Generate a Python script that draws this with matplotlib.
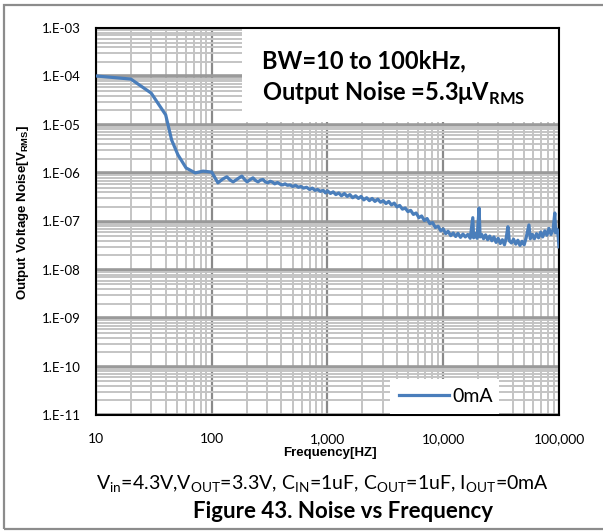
import numpy as np
import matplotlib.pyplot as plt
from matplotlib.patches import Rectangle

# data (0mA curve)
freq = [10, 20, 30, 40, 45, 51, 60, 72, 84, 100, 113, 124, 135, 144, 153, 167, 182, 192,
        202, 214, 227, 238, 251, 264, 277, 290, 305, 320, 335, 350, 370, 390, 410, 430,
        450, 475, 500, 530, 560, 590, 620, 660, 700, 740, 780, 820, 870, 920, 960,
        1000, 1060, 1120, 1180, 1250, 1320, 1400, 1480, 1560, 1650, 1750, 1850, 1950,
        2060, 2180, 2300, 2430, 2570, 2720, 2870, 3030, 3200, 3380, 3570, 3770, 3980,
        4200, 4440, 4690, 4950, 5230, 5520, 5830, 6160, 6500, 6870, 7250, 7660, 8090,
        8540, 9020, 9530,
        10000, 10500, 11000, 11600, 12200, 12800, 13400, 14100, 14800, 15500, 16300,
        17100, 18000, 18300, 19000, 19600, 20400, 20800, 21500, 22300, 23200, 24200,
        25200, 26300, 27400, 28600, 29800, 31100, 32400, 33800, 35000, 36200, 37200,
        38800, 40500, 42300, 44100, 46000, 48000, 50000, 52000, 55000, 56500, 58800,
        61300, 63900, 66600, 69400, 72300, 75400, 78600, 81900, 85300, 88900, 92000,
        93500, 96000, 98000, 100000]
noise = [1.02e-4, 8.8e-5, 4.5e-5, 1.6e-5, 4.85e-6, 2.4e-6, 1.28e-6, 1.01e-6, 1.1e-6, 1.05e-6,
         6.3e-7, 7.5e-7, 8.4e-7, 7.2e-7, 6.6e-7, 7.6e-7, 8.7e-7, 7.4e-7,
         6.6e-7, 7.3e-7, 8.0e-7, 7.1e-7, 6.6e-7, 7.2e-7, 7.4e-7, 6.6e-7, 6.3e-7, 6.8e-7,
         6.5e-7, 6.0e-7, 6.4e-7, 5.9e-7, 5.7e-7, 6.0e-7,
         5.6e-7, 5.7e-7, 5.3e-7, 5.6e-7, 5.1e-7, 5.3e-7, 4.9e-7, 5.1e-7, 4.6e-7, 4.9e-7,
         4.4e-7, 4.6e-7, 4.2e-7, 4.4e-7, 3.9e-7,
         4.3e-7, 3.8e-7, 4.1e-7, 3.6e-7, 3.9e-7, 3.4e-7, 3.8e-7, 3.3e-7, 3.6e-7, 3.1e-7,
         3.4e-7, 3.0e-7, 3.3e-7,
         2.8e-7, 3.1e-7, 2.7e-7, 3.0e-7, 2.6e-7, 2.9e-7, 2.5e-7, 2.7e-7, 2.35e-7, 2.6e-7,
         2.2e-7, 2.4e-7, 2.0e-7,
         2.15e-7, 1.8e-7, 1.9e-7, 1.6e-7, 1.7e-7, 1.4e-7, 1.5e-7, 1.2e-7, 1.3e-7, 1.05e-7,
         1.15e-7, 9.0e-8, 9.5e-8,
         7.5e-8, 8.0e-8, 6.4e-8,
         7.0e-8, 5.6e-8, 6.3e-8, 5.1e-8, 5.8e-8, 4.9e-8, 5.7e-8, 4.7e-8, 5.5e-8, 4.8e-8,
         5.4e-8,
         4.5e-8, 1.2e-7, 4.6e-8, 5.6e-8, 4.5e-8, 1.9e-7, 4.8e-8, 5.4e-8, 4.4e-8, 5.3e-8,
         4.2e-8,
         5.0e-8, 4.0e-8, 4.8e-8, 3.7e-8, 4.5e-8, 3.5e-8, 4.2e-8, 3.3e-8, 4.6e-8, 7.8e-8,
         4.0e-8,
         3.6e-8, 4.3e-8, 3.4e-8, 4.1e-8, 3.2e-8, 3.9e-8, 3.3e-8, 4.6e-8, 8.5e-8, 4.4e-8,
         5.4e-8,
         4.4e-8, 5.6e-8, 4.6e-8, 6.0e-8, 4.8e-8, 6.4e-8, 5.2e-8, 7.2e-8, 5.4e-8, 6.8e-8,
         1.5e-7,
         5.8e-8, 7.0e-8, 5.6e-8, 3.0e-8]

xticks = [10, 100, 1000, 10000, 100000]
xticklabels = ['10', '100', '1,000', '10,000', '100,000']
yticks = [1e-11, 1e-10, 1e-9, 1e-8, 1e-7, 1e-6, 1e-5, 1e-4, 1e-3]
yticklabels = ['1.E-11', '1.E-10', '1.E-09', '1.E-08', '1.E-07', '1.E-06', '1.E-05',
               '1.E-04', '1.E-03']

W, H = 603, 532
fig = plt.figure(figsize=(W / 100, H / 100), dpi=100)
ax = fig.add_axes([96 / W, 1 - 415 / H, (559 - 96) / W, (415 - 28) / H])

body = 'Lato'
ax.plot(freq, noise, color='#4a7ebb', lw=2.3, label='0mA', zorder=3)
ax.set_xscale('log')
ax.set_yscale('log')
ax.set_xlim(10, 100000)
ax.set_ylim(1e-11, 1e-3)

ax.set_xticks(xticks)
ax.set_xticklabels(xticklabels, fontfamily=body, fontsize=10)
ax.set_yticks(yticks)
ax.set_yticklabels(yticklabels, fontfamily=body, fontsize=9.5)
ax.tick_params(which='both', length=0)
ax.tick_params(axis='x', pad=13)
ax.tick_params(axis='y', pad=11)

ax.grid(which='minor', axis='both', color='#c4c4c4', lw=1.4, zorder=0)
ax.grid(which='major', axis='x', color='#8a8a8a', lw=1.6)
ax.grid(which='major', axis='y', color='#9a9a9a', lw=2.6)
ax.set_axisbelow(True)
for s in ax.spines.values():
    s.set_color('black')
    s.set_linewidth(1.5)

# white box behind the annotation
ax.add_patch(Rectangle(((242 - 96) / 463, (415 - 122) / 387), 1 - (242 - 96) / 463,
                       1 - (415 - 122) / 387, transform=ax.transAxes,
                       facecolor='white', edgecolor='none', zorder=2.5))
ax.text(262 / W, 1 - 68 / H, 'BW=10 to 100kHz,', transform=fig.transFigure,
        fontfamily=body, fontweight='bold', fontsize=17, va='baseline', zorder=4)
ax.text(262 / W, 1 - 101 / H, r'Output Noise =5.3μV$_\mathregular{RMS}$',
        transform=fig.transFigure, fontfamily=body, fontweight='bold', fontsize=17,
        va='baseline', zorder=4)

leg = ax.legend(loc='lower left', bbox_to_anchor=((390 - 96) / 463, 0.0035,
                                                  (499 - 390) / 463, (414 - 372) / 387),
                mode='expand', frameon=True, fancybox=False, borderaxespad=0,
                prop={'family': body, 'size': 14}, handlelength=2.6, handletextpad=0.15,
                borderpad=0.45)
leg.get_frame().set_edgecolor('none')
leg.get_frame().set_alpha(1)

fig.text(23 / W, 1 - 213 / H, r'Output Voltage Noise[V$_\mathregular{RMS}$]', rotation=90,
         ha='center', va='center', fontfamily='Liberation Sans', fontweight='bold',
         fontsize=9.5)
fig.text(330 / W, 1 - 453 / H, 'Frequency[HZ]', ha='center', va='center',
         fontfamily='Liberation Sans', fontweight='bold', fontsize=9.5)
fig.text(322 / W, 1 - 484 / H,
         r'V$_\mathregular{in}$=4.3V,V$_\mathregular{OUT}$=3.3V, C$_\mathregular{IN}$=1uF, '
         r'C$_\mathregular{OUT}$=1uF, I$_\mathregular{OUT}$=0mA',
         ha='center', va='center', fontfamily=body, fontsize=14)
fig.text(343 / W, 1 - 512 / H, 'Figure 43. Noise vs Frequency', ha='center', va='center',
         fontfamily=body, fontweight='bold', fontsize=16)

# outer frame (right side cut off in the reference)
fig.patches.append(Rectangle((4 / W, 3 / H), 1.1, (529 - 5) / H, transform=fig.transFigure,
                             facecolor='none', edgecolor='#8c8c8c', lw=1.6))

fig.savefig('out.png', dpi=100)
